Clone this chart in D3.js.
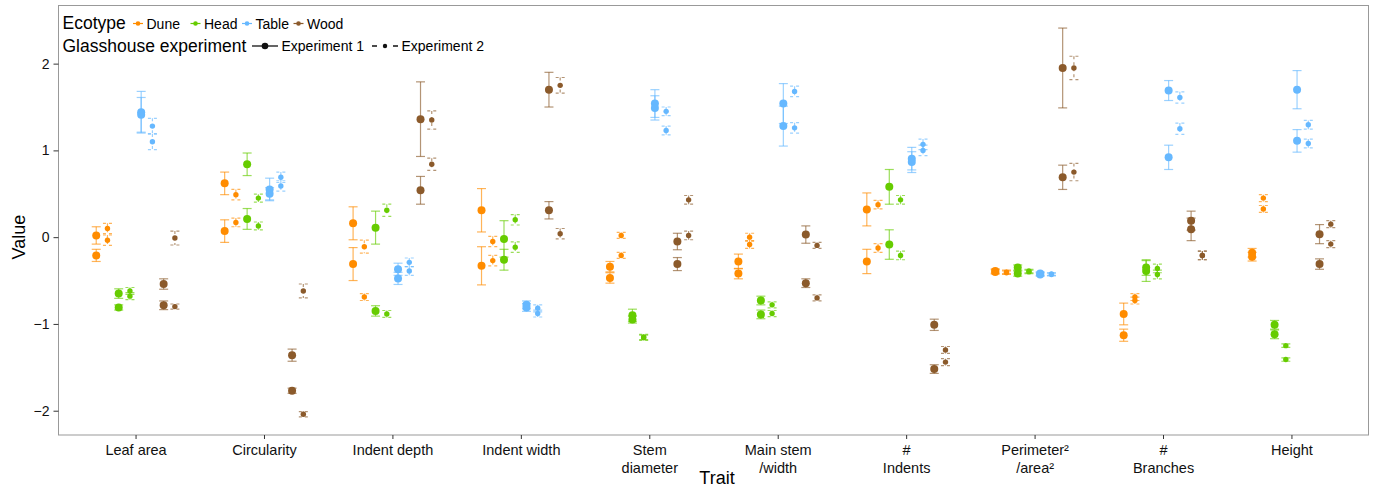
<!DOCTYPE html>
<html>
<head>
<meta charset="utf-8">
<script src="https://cdn.jsdelivr.net/npm/d3@7"></script>
<style>
  body { margin: 0; background: #fff; }
  svg { font-family: "Liberation Sans", Arial, sans-serif; }
  .axis path { stroke: #555; }
  .axis line { stroke: #333; }
  .axis text { fill: #111; font-size: 14px; }
  .x-axis text { font-size: 14.5px; }
</style>
</head>
<body>
<svg id="chart"></svg>
<script>
// traits on the x axis
const traits = ['Leaf area', 'Circularity', 'Indent depth', 'Indent width', 'Stem\ndiameter',
  'Main stem\n/width', '#\nIndents', 'Perimeter\u00b2\n/area\u00b2', '#\nBranches', 'Height'];
const ecotypes = ['Dune', 'Head', 'Table', 'Wood'];
const experiments = ['Experiment 1', 'Experiment 2'];
const yTicks = [-2, -1, 0, 1, 2];

// two populations per ecotype: [mean A, mean B] per trait, with error half-widths
const duneExp1Mean = [[0.02,-0.21],[0.62,0.07],[0.16,-0.31],[0.31,-0.33],[-0.34,-0.47],[-0.28,-0.42],[0.32,-0.28],[-0.39,-0.40],[-0.885,-1.13],[-0.18,-0.225]];
const duneExp1Err  = [[0.10,0.07],[0.13,0.13],[0.19,0.19],[0.25,0.22],[0.06,0.06],[0.085,0.06],[0.19,0.14],[0.025,0.025],[0.125,0.07],[0.05,0.05]];
const duneExp2Mean = [[0.10,-0.035],[0.49,0.17],[-0.11,-0.69],[-0.05,-0.27],[0.02,-0.21],[0.00,-0.085],[0.375,-0.125],[-0.40,-0.41],[-0.69,-0.73],[0.45,0.325]];
const duneExp2Err  = [[0.06,0.06],[0.06,0.05],[0.075,0.04],[0.06,0.06],[0.035,0.035],[0.045,0.045],[0.05,0.05],[0.02,0.02],[0.04,0.04],[0.04,0.04]];

const headExp1Mean = [[-0.65,-0.81],[0.84,0.21],[0.11,-0.85],[-0.02,-0.26],[-0.90,-0.95],[-0.73,-0.89],[0.58,-0.085],[-0.35,-0.42],[-0.35,-0.39],[-1.01,-1.12]];
const headExp1Err  = [[0.055,0.03],[0.13,0.12],[0.19,0.06],[0.21,0.12],[0.07,0.04],[0.05,0.05],[0.20,0.17],[0.03,0.03],[0.09,0.12],[0.05,0.05]];
const headExp2Mean = [[-0.62,-0.68],[0.45,0.13],[0.31,-0.885],[0.20,-0.115],[-1.15,-1.16],[-0.78,-0.88],[0.43,-0.21],[-0.39,-0.40],[-0.36,-0.43],[-1.25,-1.41]];
const headExp2Err  = [[0.04,0.04],[0.045,0.045],[0.07,0.04],[0.06,0.06],[0.03,0.03],[0.035,0.035],[0.05,0.05],[0.02,0.02],[0.05,0.05],[0.02,0.02]];

const tableExp1Mean = [[1.44,1.41],[0.55,0.50],[-0.37,-0.475],[-0.78,-0.81],[1.54,1.49],[1.54,1.28],[0.905,0.865],[-0.42,-0.43],[1.69,0.92],[1.70,1.11]];
const tableExp1Err  = [[0.24,0.20],[0.13,0.07],[0.07,0.07],[0.045,0.045],[0.16,0.14],[0.23,0.23],[0.13,0.12],[0.02,0.02],[0.115,0.14],[0.22,0.13]];
const tableExp2Mean = [[1.28,1.10],[0.69,0.59],[-0.29,-0.39],[-0.82,-0.88],[1.45,1.23],[1.68,1.26],[1.07,1.00],[-0.425,-0.43],[1.61,1.25],[1.295,1.08]];
const tableExp2Err  = [[0.09,0.09],[0.06,0.06],[0.05,0.05],[0.04,0.04],[0.05,0.05],[0.06,0.06],[0.06,0.06],[0.015,0.015],[0.065,0.065],[0.05,0.05]];

const woodExp1Mean = [[-0.54,-0.785],[-1.36,-1.77],[1.36,0.54],[1.70,0.31],[-0.05,-0.31],[0.03,-0.53],[-1.01,-1.52],[1.95,0.69],[0.19,0.09],[0.035,-0.31]];
const woodExp1Err  = [[0.06,0.05],[0.07,0.03],[0.43,0.16],[0.20,0.10],[0.095,0.075],[0.10,0.05],[0.065,0.05],[0.46,0.14],[0.11,0.13],[0.11,0.06]];
const woodExp2Mean = [[-0.01,-0.80],[-0.62,-2.04],[1.35,0.84],[1.75,0.04],[0.43,0.02],[-0.095,-0.70],[-1.30,-1.44],[1.95,0.75],[-0.21,-0.21],[0.15,-0.08]];
const woodExp2Err  = [[0.08,0.03],[0.08,0.03],[0.105,0.07],[0.09,0.06],[0.05,0.05],[0.035,0.035],[0.04,0.04],[0.135,0.10],[0.05,0.05],[0.04,0.04]];

const colours = {Dune: '#ff8c00', Head: '#66cc00', Table: '#66b8ff', Wood: '#8b5a2b'};

// build the long table: one row per point
const groups = [
  ['Dune', 0, duneExp1Mean, duneExp1Err], ['Dune', 1, duneExp2Mean, duneExp2Err],
  ['Head', 0, headExp1Mean, headExp1Err], ['Head', 1, headExp2Mean, headExp2Err],
  ['Table', 0, tableExp1Mean, tableExp1Err], ['Table', 1, tableExp2Mean, tableExp2Err],
  ['Wood', 0, woodExp1Mean, woodExp1Err], ['Wood', 1, woodExp2Mean, woodExp2Err]
];
const data = [];
groups.forEach(([eco, exp, means, errs], gi) => {
  traits.forEach((t, ti) => {
    means[ti].forEach((m, k) => {
      data.push({trait: t, ecotype: eco, exp: exp, group: gi, value: m, err: errs[ti][k]});
    });
  });
});

const width = 1374, height = 488;
const margin = {top: 5.5, right: 5.5, bottom: 53, left: 58.5};
const innerW = width - margin.left - margin.right;
const innerH = height - margin.top - margin.bottom;

const svg = d3.select('#chart').attr('width', width).attr('height', height);
const chart = svg.append('g').attr('transform', `translate(${margin.left},${margin.top})`);

const xScale = d3.scalePoint().domain(traits).range([0, innerW]).padding(0.6);
const dodge = d3.scaleBand().domain(d3.range(8)).range([-0.35, 0.35].map(v => v * xScale.step()));
const yScale = d3.scaleLinear().domain([-2.28, 2.67]).range([innerH, 0]);

const xPos = d => xScale(d.trait) + dodge(d.group) + dodge.bandwidth() / 2;

// panel border
chart.append('rect')
  .attr('width', innerW).attr('height', innerH)
  .attr('fill', 'none').attr('stroke', '#999').attr('stroke-width', 1);

// axes
const yAxisG = chart.append('g').attr('class', 'axis y-axis')
  .call(d3.axisLeft(yScale).tickValues(yTicks).tickFormat(d3.format('d'))
    .tickSize(5).tickPadding(4).tickSizeOuter(0));
yAxisG.select('.domain').remove();

const xAxisG = chart.append('g').attr('class', 'axis x-axis')
  .attr('transform', `translate(0,${innerH})`)
  .call(d3.axisBottom(xScale).tickSize(4).tickPadding(6).tickSizeOuter(0));
xAxisG.select('.domain').remove();
xAxisG.selectAll('.tick text').each(function(d) {
  const t = d3.select(this).text('');
  d.split('\n').forEach((line, i) => {
    t.append('tspan').attr('x', 0).attr('dy', i === 0 ? '0.71em' : '1.25em').text(line);
  });
});

// axis titles
svg.append('text').attr('x', 717).attr('y', 484).attr('text-anchor', 'middle')
  .attr('font-size', 18).text('Trait');
svg.append('text').attr('transform', `translate(25,${margin.top + yScale(0)}) rotate(-90)`)
  .attr('text-anchor', 'middle').attr('font-size', 18).text('Value');

// error bars
const capHalf = 4.5;
const bars = chart.append('g').selectAll('g.bar').data(data).join('g')
  .attr('class', 'bar')
  .attr('stroke', d => colours[d.ecotype])
  .attr('stroke-opacity', 0.65)
  .attr('stroke-width', 1.2)
  .attr('stroke-dasharray', d => d.exp === 1 ? '3,3' : null);
bars.append('line')
  .attr('x1', xPos).attr('x2', xPos)
  .attr('y1', d => yScale(d.value + d.err)).attr('y2', d => yScale(d.value - d.err));
bars.append('line')
  .attr('x1', d => xPos(d) - capHalf).attr('x2', d => xPos(d) + capHalf)
  .attr('y1', d => yScale(d.value + d.err)).attr('y2', d => yScale(d.value + d.err));
bars.append('line')
  .attr('x1', d => xPos(d) - capHalf).attr('x2', d => xPos(d) + capHalf)
  .attr('y1', d => yScale(d.value - d.err)).attr('y2', d => yScale(d.value - d.err));

// points
chart.append('g').selectAll('circle').data(data).join('circle')
  .attr('cx', xPos).attr('cy', d => yScale(d.value))
  .attr('r', d => d.exp === 0 ? 4 : 2.7)
  .attr('fill', d => colours[d.ecotype]);

// legend
const legend = svg.append('g');
legend.append('text').attr('x', 62.5).attr('y', 29).attr('font-size', 17.5).text('Ecotype');
const ecoX = [133, 190.5, 242, 293.5];
ecotypes.forEach((e, i) => {
  const g = legend.append('g').attr('transform', `translate(${ecoX[i]},23.5)`);
  g.append('line').attr('x1', 0).attr('x2', 10).attr('stroke', colours[e]).attr('stroke-width', 1.2);
  g.append('circle').attr('cx', 5).attr('r', 2.3).attr('fill', colours[e]);
  g.append('text').attr('x', 13.5).attr('y', 5).attr('font-size', 14).text(e);
});
legend.append('text').attr('x', 62.5).attr('y', 51.5).attr('font-size', 17.5).text('Glasshouse experiment');
const expX = [252, 372];
experiments.forEach((e, i) => {
  const g = legend.append('g').attr('transform', `translate(${expX[i]},46)`);
  g.append('line').attr('x1', 0).attr('x2', 26).attr('stroke', '#111').attr('stroke-width', 1.3)
    .attr('stroke-dasharray', i === 1 ? '5,16' : null);
  g.append('circle').attr('cx', 13).attr('r', i === 0 ? 3.3 : 2.2).attr('fill', '#111');
  g.append('text').attr('x', 29.5).attr('y', 5).attr('font-size', 14).text(e);
});
</script>
</body>
</html>
